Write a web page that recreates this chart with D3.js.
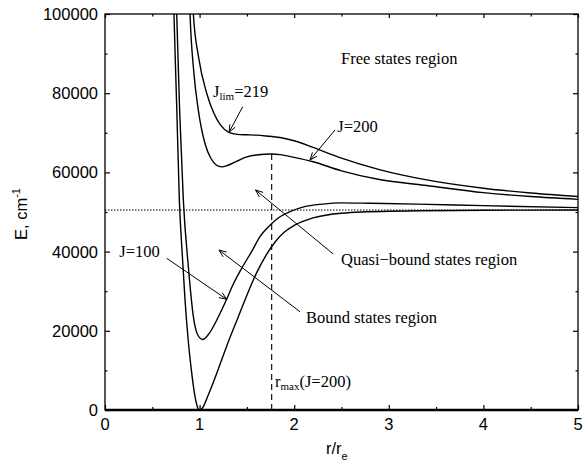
<!DOCTYPE html>
<html>
<head>
<meta charset="utf-8">
<script src="https://cdn.jsdelivr.net/npm/d3@7"></script>
<style>
  body { margin: 0; background: #fff; }
  .tick-label { font-family: "Liberation Sans", Arial, sans-serif; font-size: 16.5px; }
  .note { font-family: "Liberation Serif", "Times New Roman", serif; font-size: 16.5px; }
</style>
</head>
<body>
<svg id="chart" width="585" height="468"></svg>
<script>
// potential curves: [r/re, E in cm^-1]
const curveJ0 = [[0.70,130000],[0.729,100000],[0.76,75000],[0.786,53000],[0.82,38000],[0.846,27800],
  [0.88,17500],[0.909,10900],[0.95,3600],[0.975,900],[1.0,0],[1.03,500],[1.1,4300],[1.2,10500],
  [1.3,17000],[1.4,23000],[1.5,29000],[1.6,34500],[1.7,39000],[1.8,42500],[1.9,45000],[2.0,46600],
  [2.2,48500],[2.5,49700],[3.0,50200],[4.0,50450],[5.0,50500]];
const curveJ100 = [[0.74,120000],[0.758,100000],[0.79,75000],[0.828,53000],[0.881,36200],[0.934,23600],
  [0.98,19000],[1.033,17800],[1.1,19300],[1.2,23600],[1.286,27950],[1.35,31500],[1.445,35800],
  [1.55,40000],[1.638,43800],[1.75,46800],[1.85,48800],[1.956,50100],[2.1,51300],[2.3,52000],
  [2.5,52300],[2.8,52200],[3.3,52000],[4.0,51600],[5.0,51100]];
const curveJ200 = [[0.88,115000],[0.899,100000],[0.94,85000],[0.986,75800],[1.057,67300],[1.12,63500],
  [1.18,61800],[1.233,61400],[1.3,61800],[1.4,62900],[1.5,63900],[1.6,64400],[1.762,64650],
  [1.85,64500],[2.0,63800],[2.2,62700],[2.5,60400],[2.9,58200],[3.4,56700],[4.0,54900],
  [4.5,53900],[5.0,53200]];
const curveJ219 = [[0.915,115000],[0.934,100000],[0.99,89000],[1.075,80000],[1.15,75000],[1.22,72000],
  [1.31,70100],[1.4,69600],[1.5,69500],[1.6,69400],[1.7,69200],[1.85,68800],[2.0,68000],
  [2.2,66300],[2.5,63600],[2.9,60700],[3.4,58100],[4.0,56000],[4.5,54800],[5.0,53900]];

const dissociation = 50500;
const rMax = 1.762, eMax = 64650;

const xTicks = [0, 1, 2, 3, 4, 5];
const yTicks = [0, 20000, 40000, 60000, 80000, 100000];

// arrows: [r0, E0, r1, E1], arrow head at second point
const arrows = [[1.456,76590,1.311,70130],[2.431,70710,2.167,63130],[2.413,39390,1.591,55560],
  [2.061,24820,1.205,40400],[0.652,38310,1.286,27950]];

const labels = [
  {r: 2.495, e: 87370, text: "Free states region"},
  {r: 2.456, e: 70280, text: "J=200"},
  {r: 2.495, e: 36620, text: "Quasi\u2212bound states region"},
  {r: 2.125, e: 22050, text: "Bound states region"},
  {r: 0.151, e: 38710, text: "J=100"}
];

let svg = d3.select("#chart");
let margin = {left: 105, right: 7, top: 14, bottom: 58};
let width = 585 - margin.left - margin.right;
let height = 468 - margin.top - margin.bottom;

let x = d3.scaleLinear().domain([0, 5]).range([0, width]);
let y = d3.scaleLinear().domain([0, 100000]).range([height, 0]);

let g = svg.append("g").attr("transform", `translate(${margin.left},${margin.top})`);

g.append("clipPath").attr("id", "clip")
  .append("rect").attr("width", width).attr("height", height);

// ticks, inside on all four sides
function drawAxis(axis, transform) {
  g.append("g").attr("transform", transform).call(axis)
    .call(s => s.select(".domain").remove())
    .call(s => s.selectAll("text").remove())
    .call(s => s.selectAll("line").attr("stroke", "#000").attr("stroke-width", 1.2));
}
let xMinor = d3.range(0.5, 5, 1);
let yMinor = d3.range(10000, 100000, 20000);
drawAxis(d3.axisTop(x).tickValues(xTicks).tickSize(5), `translate(0,${height})`);
drawAxis(d3.axisTop(x).tickValues(xMinor).tickSize(3), `translate(0,${height})`);
drawAxis(d3.axisBottom(x).tickValues(xTicks).tickSize(4), "translate(0,0)");
drawAxis(d3.axisBottom(x).tickValues(xMinor).tickSize(2.5), "translate(0,0)");
drawAxis(d3.axisRight(y).tickValues(yTicks).tickSize(5), "translate(0,0)");
drawAxis(d3.axisRight(y).tickValues(yMinor).tickSize(2.5), "translate(0,0)");
drawAxis(d3.axisLeft(y).tickValues(yTicks).tickSize(5), `translate(${width},0)`);
drawAxis(d3.axisLeft(y).tickValues(yMinor).tickSize(2.5), `translate(${width},0)`);

// tick labels
g.selectAll(".xl").data(xTicks).enter().append("text")
  .attr("class", "tick-label").attr("x", d => x(d)).attr("y", height + 20)
  .attr("text-anchor", "middle").text(d => d);
g.selectAll(".yl").data(yTicks).enter().append("text")
  .attr("class", "tick-label").attr("x", -7).attr("y", d => y(d) + 6)
  .attr("text-anchor", "end").text(d => d);

// dotted dissociation limit
g.append("line").attr("x1", 0).attr("x2", width)
  .attr("y1", y(dissociation)).attr("y2", y(dissociation))
  .attr("stroke", "#000").attr("stroke-width", 1).attr("stroke-dasharray", "1.5,1.5");

// dashed r_max line
g.append("line").attr("x1", x(rMax)).attr("x2", x(rMax))
  .attr("y1", y(eMax)).attr("y2", y(0))
  .attr("stroke", "#000").attr("stroke-width", 1.1).attr("stroke-dasharray", "6,4");

let line = d3.line().x(d => x(d[0])).y(d => y(d[1])).curve(d3.curveMonotoneX);
let curves = [curveJ0, curveJ100, curveJ200, curveJ219];
g.append("g").attr("clip-path", "url(#clip)")
  .selectAll("path").data(curves).enter().append("path")
  .attr("d", line).attr("fill", "none").attr("stroke", "#000").attr("stroke-width", 1.4);

// frame
g.append("rect").attr("width", width).attr("height", height)
  .attr("fill", "none").attr("stroke", "#000").attr("stroke-width", 1.3);
g.append("line").attr("x1", 0).attr("x2", width).attr("y1", height).attr("y2", height)
  .attr("stroke", "#000").attr("stroke-width", 2.4);

// arrows
arrows.forEach(function(a) {
  let x0 = x(a[0]), y0 = y(a[1]), x1 = x(a[2]), y1 = y(a[3]);
  let ang = Math.atan2(y1 - y0, x1 - x0);
  let len = 8, spread = 0.38;
  g.append("line").attr("x1", x0).attr("y1", y0).attr("x2", x1).attr("y2", y1)
    .attr("stroke", "#000").attr("stroke-width", 1);
  g.append("path")
    .attr("d", `M${x1 - len * Math.cos(ang - spread)},${y1 - len * Math.sin(ang - spread)}L${x1},${y1}L${x1 - len * Math.cos(ang + spread)},${y1 - len * Math.sin(ang + spread)}`)
    .attr("fill", "none").attr("stroke", "#000").attr("stroke-width", 1);
});

// annotations
g.selectAll(".note-t").data(labels).enter().append("text")
  .attr("class", "note").attr("x", d => x(d.r)).attr("y", d => y(d.e)).text(d => d.text);

let jlim = g.append("text").attr("class", "note").attr("x", x(1.142)).attr("y", y(79120));
jlim.append("tspan").text("J");
jlim.append("tspan").attr("dy", 3).attr("font-size", "11px").text("lim");
jlim.append("tspan").attr("dy", -3).text("=219");

let rm = g.append("text").attr("class", "note").attr("x", x(1.797)).attr("y", y(5800));
rm.append("tspan").text("r");
rm.append("tspan").attr("dy", 3).attr("font-size", "11px").text("max");
rm.append("tspan").attr("dy", -3).text("(J=200)");

// axis titles
let xt = svg.append("text").attr("class", "tick-label").attr("x", 326).attr("y", 454);
xt.append("tspan").text("r/r");
xt.append("tspan").attr("dy", 6).attr("font-size", "11px").text("e");

let yt = svg.append("text").attr("class", "tick-label")
  .attr("transform", "translate(27,240) rotate(-90)");
yt.append("tspan").text("E, cm");
yt.append("tspan").attr("dy", -7).attr("font-size", "11px").text("-1");
</script>
</body>
</html>
